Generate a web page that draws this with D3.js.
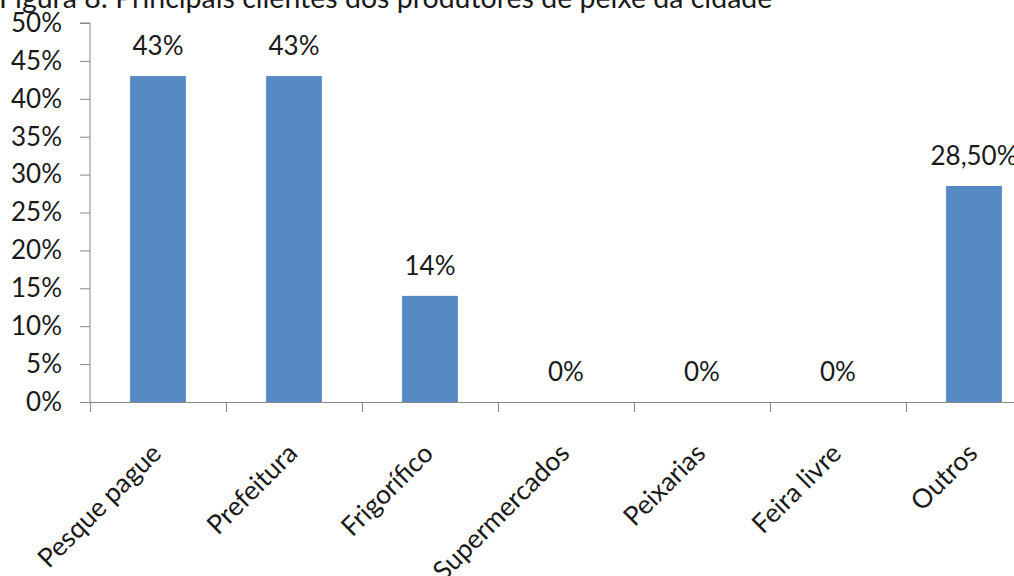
<!DOCTYPE html>
<html>
<head>
<meta charset="utf-8">
<script src="https://cdn.jsdelivr.net/npm/d3@7"></script>
<style>
  body { margin: 0; background: #fff; }
  text { fill: #1a1a1a; }
</style>
</head>
<body>
<div class="chart"></div>
<script>
var categories = ["Pesque pague", "Prefeitura", "Frigorífico", "Supermercados", "Peixarias", "Feira livre", "Outros"];
var values = [43, 43, 14, 0, 0, 0, 28.5];
var valueLabels = ["43%", "43%", "14%", "0%", "0%", "0%", "28,50%"];
var yTicks = [0, 5, 10, 15, 20, 25, 30, 35, 40, 45, 50];
var title = "Figura 8: Principais clientes dos produtores de peixe da cidade";

var svgWidth = 1014;
var svgHeight = 576;
var font = "Lato, sans-serif";

var svg = d3.select(".chart")
  .append("svg")
  .attr("width", svgWidth)
  .attr("height", svgHeight);

// plot area (right side runs off the picture, like the source)
var x0 = 90, x1 = 1042, yTop = 23, yBottom = 402;

var xScale = d3.scaleBand()
  .domain(categories)
  .range([x0, x1])
  .paddingInner(0.59)
  .paddingOuter(0.295);

var yScale = d3.scaleLinear()
  .domain([0, 50])
  .range([yBottom, yTop]);

// title, clipped at the top
svg.append("text")
  .attr("x", -1)
  .attr("y", 8)
  .attr("font-family", font)
  .attr("font-size", "28.5px")
  .attr("fill", "#1a1a1a")
  .text(title);

// y axis
var leftAxis = d3.axisLeft(yScale)
  .tickValues(yTicks)
  .tickSize(10)
  .tickPadding(18)
  .tickFormat(d => d + "%");

var yAxis = svg.append("g")
  .attr("transform", `translate(${x0}, 0)`)
  .call(leftAxis);

yAxis.select(".domain").attr("stroke", "#888").attr("d", `M-10,${yTop}H0V${yBottom}`);
yAxis.selectAll(".tick line").attr("stroke", "#888");
yAxis.selectAll(".tick text")
  .attr("font-family", font)
  .attr("font-size", "26px")
  .attr("fill", "#1a1a1a");

// x axis line and category ticks
var xAxisScale = d3.scaleLinear().domain([0, categories.length]).range([x0, x1]);
var bottomAxis = d3.axisBottom(xAxisScale)
  .tickValues(d3.range(categories.length + 1))
  .tickSize(10)
  .tickSizeOuter(0)
  .tickFormat("");

var xAxis = svg.append("g")
  .attr("transform", `translate(0, ${yBottom})`)
  .call(bottomAxis);
xAxis.select(".domain").attr("stroke", "#888");
xAxis.selectAll(".tick line").attr("stroke", "#888");

// bars
svg.selectAll(".bar")
  .data(values)
  .enter()
  .append("rect")
  .attr("class", "bar")
  .attr("x", (d, i) => xScale(categories[i]))
  .attr("y", d => yScale(d))
  .attr("width", xScale.bandwidth())
  .attr("height", d => yBottom - yScale(d))
  .attr("fill", "#5689c4");

// value labels
svg.selectAll(".vlabel")
  .data(values)
  .enter()
  .append("text")
  .attr("class", "vlabel")
  .attr("x", (d, i) => xScale(categories[i]) + xScale.bandwidth() / 2)
  .attr("y", d => yScale(d) - 21)
  .attr("text-anchor", "middle")
  .attr("font-family", font)
  .attr("font-size", "26px")
  .text((d, i) => valueLabels[i]);

// category labels, rotated
svg.selectAll(".clabel")
  .data(categories)
  .enter()
  .append("text")
  .attr("class", "clabel")
  .attr("transform", d => `translate(${xScale(d) + xScale.bandwidth() / 2 + 5}, ${yBottom + 53}) rotate(-45)`)
  .attr("text-anchor", "end")
  .attr("font-family", font)
  .attr("font-size", "26.5px")
  .text(d => d);
</script>
</body>
</html>
